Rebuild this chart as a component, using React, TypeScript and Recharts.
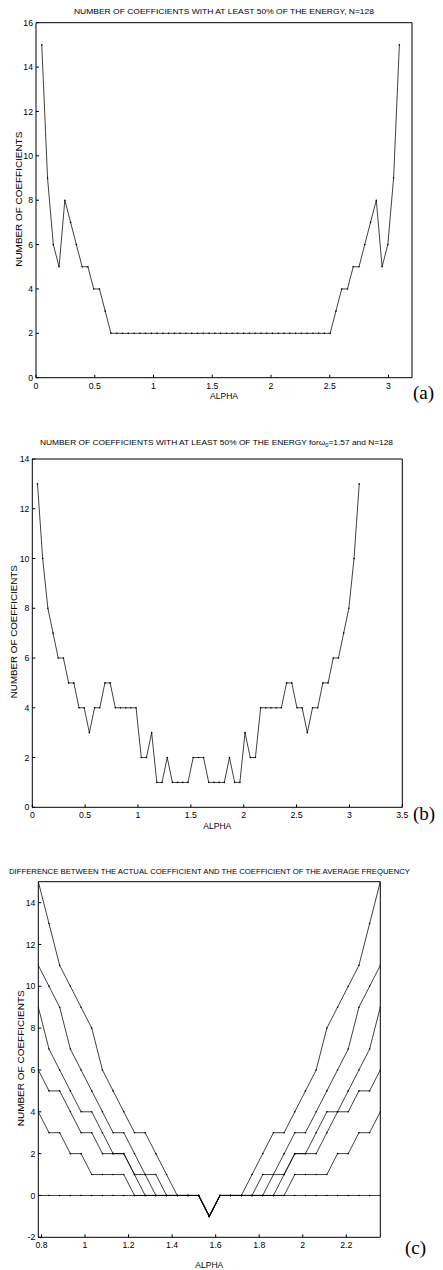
import React from "react";
import { LineChart, Line, XAxis, YAxis } from "recharts";

// alpha grid: k * pi / 64
const STEP = Math.PI / 64;

// (a) k = 1..63
const countA = [
  15, 9, 6, 5, 8, 7, 6, 5, 5, 4, 4, 3, 2,
  2, 2, 2, 2, 2, 2, 2, 2, 2, 2, 2, 2, 2, 2, 2, 2, 2, 2, 2, 2, 2, 2, 2, 2, 2, 2, 2, 2, 2, 2, 2, 2, 2, 2, 2, 2, 2,
  2, 3, 4, 4, 5, 5, 6, 7, 8, 5, 6, 9, 15,
];

// (b) k = 1..63
const countB = [
  13, 10, 8, 7, 6, 6, 5, 5, 4, 4, 3, 4, 4, 5, 5, 4, 4, 4, 4, 4, 2, 2, 3, 1, 1, 2, 1, 1, 1, 1, 2, 2,
  2, 1, 1, 1, 1, 2, 1, 1, 3, 2, 2, 4, 4, 4, 4, 4, 5, 5, 4, 4, 3, 4, 4, 5, 5, 6, 6, 7, 8, 10, 13,
];

// (c) k = 16..48
const diff15 = [15, 13, 11, 10, 9, 8, 6, 5, 4, 3, 3, 2, 1, 0, 0, 0, -1, 0, 0, 0, 1, 2, 3, 3, 4, 5, 6, 8, 9, 10, 11, 13, 15];
const diff11 = [11, 10, 9, 7, 6, 5, 4, 3, 3, 2, 1, 0, 0, 0, 0, 0, -1, 0, 0, 0, 0, 0, 1, 2, 3, 3, 4, 5, 6, 7, 9, 10, 11];
const diff9 = [9, 7, 6, 5, 4, 4, 3, 2, 2, 1, 0, 0, 0, 0, 0, 0, -1, 0, 0, 0, 0, 0, 0, 1, 2, 2, 3, 4, 4, 5, 6, 7, 9];
const diff6 = [6, 5, 5, 4, 3, 3, 2, 2, 2, 1, 1, 1, 0, 0, 0, 0, -1, 0, 0, 0, 0, 1, 1, 1, 2, 2, 2, 3, 4, 4, 5, 5, 6];
const diff4 = [4, 3, 3, 2, 2, 1, 1, 1, 1, 0, 0, 0, 0, 0, 0, 0, -1, 0, 0, 0, 0, 0, 0, 0, 1, 1, 1, 1, 2, 2, 3, 3, 4];
const diff0 = [0, 0, 0, 0, 0, 0, 0, 0, 0, 0, 0, 0, 0, 0, 0, 0, -1, 0, 0, 0, 0, 0, 0, 0, 0, 0, 0, 0, 0, 0, 0, 0, 0];
const diffSeries = [diff15, diff11, diff9, diff6, diff4, diff0];

const xTicksA = [0, 0.5, 1, 1.5, 2, 2.5, 3];
const yTicksA = [0, 2, 4, 6, 8, 10, 12, 14, 16];
const xTicksB = [0, 0.5, 1, 1.5, 2, 2.5, 3, 3.5];
const yTicksB = [0, 2, 4, 6, 8, 10, 12, 14];
const xTicksC = [0.8, 1, 1.2, 1.4, 1.6, 1.8, 2, 2.2];
const yTicksC = [-2, 0, 2, 4, 6, 8, 10, 12, 14];

const dataA = countA.map((v, i) => ({ x: (i + 1) * STEP, v }));
const dataB = countB.map((v, i) => ({ x: (i + 1) * STEP, v }));
const dataC = diff15.map((_, i) => {
  const row: Record<string, number> = { x: (i + 16) * STEP };
  diffSeries.forEach((s, j) => (row["s" + j] = s[i]));
  return row;
});

const FONT = "'Liberation Sans', Arial, sans-serif";
const tickStyle = { fontSize: 8.7, fill: "#000", fontFamily: FONT };

interface PanelProps {
  top: number;
  height: number;
  plot: { left: number; right: number; top: number; bottom: number };
  data: Record<string, number>[];
  keys: string[];
  xDomain: [number, number];
  yDomain: [number, number];
  xTicks: number[];
  yTicks: number[];
}

function Panel({ top, height, plot, data, keys, xDomain, yDomain, xTicks, yTicks }: PanelProps) {
  const W = 443;
  return (
    <div style={{ position: "absolute", left: 0, top, width: W, height }}>
      <LineChart width={W} height={height} data={data} margin={{ top: 0, right: 0, bottom: 0, left: 0 }}>
        <XAxis
          xAxisId="b"
          dataKey="x"
          type="number"
          domain={xDomain}
          ticks={xTicks}
          allowDataOverflow
          interval={0}
          height={height - (plot.bottom - top)}
          tickSize={-3}
          tickMargin={8}
          stroke="#000"
          tick={tickStyle}
        />
        <XAxis
          xAxisId="t"
          orientation="top"
          dataKey="x"
          type="number"
          domain={xDomain}
          ticks={xTicks}
          allowDataOverflow
          interval={0}
          height={plot.top - top}
          tickSize={-3}
          stroke="#000"
          tick={false}
        />
        <YAxis
          yAxisId="l"
          type="number"
          domain={yDomain}
          ticks={yTicks}
          allowDataOverflow
          interval={0}
          width={plot.left}
          tickSize={-3}
          tickMargin={6}
          stroke="#000"
          tick={tickStyle}
        />
        <YAxis
          yAxisId="r"
          orientation="right"
          type="number"
          domain={yDomain}
          ticks={yTicks}
          allowDataOverflow
          interval={0}
          width={W - plot.right}
          tickSize={-3}
          stroke="#000"
          tick={false}
        />
        {keys.map((k) => (
          <Line
            key={k}
            xAxisId="b"
            yAxisId="l"
            dataKey={k}
            type="linear"
            stroke="#000"
            strokeWidth={0.75}
            dot={{ r: 0.8, fill: "#000", stroke: "none" }}
            activeDot={false}
            isAnimationActive={false}
          />
        ))}
      </LineChart>
    </div>
  );
}

export default function App() {
  return (
    <div style={{ position: "absolute", left: 0, top: 0, width: 443, height: 1270, background: "#fff" }}>
      <Panel
        top={0}
        height={410}
        plot={{ left: 36, right: 412, top: 22.7, bottom: 377.7 }}
        data={dataA}
        keys={["v"]}
        xDomain={[0, 3.2]}
        yDomain={[0, 16]}
        xTicks={xTicksA}
        yTicks={yTicksA}
      />
      <Panel
        top={420}
        height={420}
        plot={{ left: 32.3, right: 402.3, top: 459, bottom: 807.3 }}
        data={dataB}
        keys={["v"]}
        xDomain={[0, 3.5]}
        yDomain={[0, 14]}
        xTicks={xTicksB}
        yTicks={yTicksB}
      />
      <Panel
        top={850}
        height={420}
        plot={{ left: 38.3, right: 380.3, top: 881.7, bottom: 1237.3 }}
        data={dataC}
        keys={["s0", "s1", "s2", "s3", "s4", "s5"]}
        xDomain={[Math.PI / 4, (3 * Math.PI) / 4]}
        yDomain={[-2, 15]}
        xTicks={xTicksC}
        yTicks={yTicksC}
      />
      <svg
        width={443}
        height={1270}
        style={{ position: "absolute", left: 0, top: 0, pointerEvents: "none" }}
        fontFamily={FONT}
        fill="#000"
      >
        <text x={224} y={14} fontSize={8} textAnchor="middle" textLength={300} lengthAdjust="spacingAndGlyphs">
          NUMBER OF COEFFICIENTS WITH AT LEAST 50% OF THE ENERGY, N=128
        </text>
        <text transform="translate(21.5,199.2) rotate(-90)" fontSize={8.5} textAnchor="middle" textLength={135} lengthAdjust="spacingAndGlyphs">
          NUMBER OF COEFFICIENTS
        </text>
        <text x={224} y={399.3} fontSize={8.5} textAnchor="middle">ALPHA</text>
        <text x={413} y={399} fontSize={19} fontFamily="'Liberation Serif', 'Times New Roman', serif">(a)</text>

        <text x={216.5} y={445} fontSize={8} textAnchor="middle" textLength={353} lengthAdjust="spacingAndGlyphs">
          NUMBER OF COEFFICIENTS WITH AT LEAST 50% OF THE ENERGY forω
          <tspan dy={2} fontSize={5.5}>0</tspan>
          <tspan dy={-2}>=1.57 and N=128</tspan>
        </text>
        <text transform="translate(16.5,631.7) rotate(-90)" fontSize={8.5} textAnchor="middle" textLength={133} lengthAdjust="spacingAndGlyphs">
          NUMBER OF COEFFICIENTS
        </text>
        <text x={217.3} y={829} fontSize={8.5} textAnchor="middle">ALPHA</text>
        <text x={413} y={820} fontSize={19} fontFamily="'Liberation Serif', 'Times New Roman', serif">(b)</text>

        <text x={209.5} y={874} fontSize={8} textAnchor="middle" textLength={401} lengthAdjust="spacingAndGlyphs">
          DIFFERENCE BETWEEN THE ACTUAL COEFFICIENT AND THE COEFFICIENT OF THE AVERAGE FREQUENCY
        </text>
        <text transform="translate(24,1058.3) rotate(-90)" fontSize={8.5} textAnchor="middle" textLength={136} lengthAdjust="spacingAndGlyphs">
          NUMBER OF COEFFICIENTS
        </text>
        <text x={209.3} y={1268.3} fontSize={8.5} textAnchor="middle">ALPHA</text>
        <text x={405} y={1254} fontSize={19} fontFamily="'Liberation Serif', 'Times New Roman', serif">(c)</text>
      </svg>
    </div>
  );
}
